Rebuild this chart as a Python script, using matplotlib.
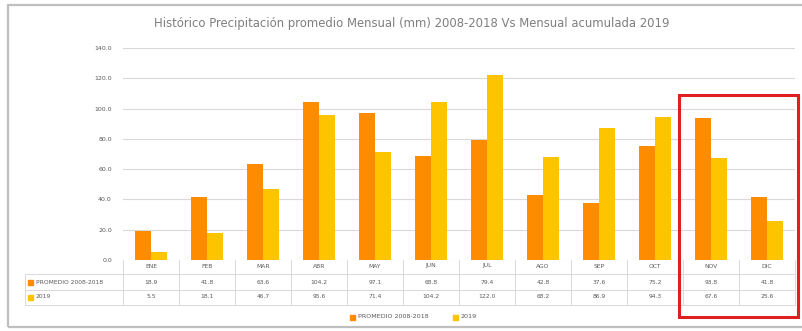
import matplotlib
matplotlib.use("Agg")
import matplotlib.pyplot as plt
from matplotlib.patches import Rectangle
from matplotlib.transforms import blended_transform_factory
import numpy as np

# Datos (mm)
meses = ["ENE", "FEB", "MAR", "ABR", "MAY", "JUN", "JUL", "AGO", "SEP", "OCT", "NOV", "DIC"]
promedio = [18.9, 41.8, 63.6, 104.2, 97.1, 68.8, 79.4, 42.8, 37.6, 75.2, 93.8, 41.8]
anio_2019 = [5.5, 18.1, 46.7, 95.6, 71.4, 104.2, 122.0, 68.2, 86.9, 94.3, 67.6, 25.6]
serie_nombres = ["PROMEDIO 2008-2018", "2019"]
y_ticks = [0, 20, 40, 60, 80, 100, 120, 140]

C_NAR = "#FF8C00"
C_AMA = "#FFC400"
C_GRIS = "#D9D9D9"
C_TXT = "#595959"

W, H = 802, 331
fig = plt.figure(figsize=(W / 100, H / 100), dpi=100)
plt.rcParams["font.family"] = ["DejaVu Sans"]


def fy(py):
    # pixel (desde arriba) -> fraccion de figura
    return 1 - py / H


# marco exterior
fig.patches.append(Rectangle((8 / W, fy(327)), 1.0, fy(5) - fy(327), transform=fig.transFigure,
                             fill=False, ec="#BFBFBF", lw=1.6, zorder=0))

ax = fig.add_axes([123 / W, fy(260), (795 - 123) / W, fy(48) - fy(260)])
x = np.arange(len(meses))
ancho = 0.28
ax.bar(x - ancho / 2, promedio, ancho, color=C_NAR, zorder=3)
ax.bar(x + ancho / 2, anio_2019, ancho, color=C_AMA, zorder=3)

ax.set_xlim(-0.5, len(meses) - 0.5)
ax.set_ylim(0, 140)
ax.set_yticks(y_ticks)
ax.set_yticklabels([f"{v:.1f}" for v in y_ticks], fontsize=4.5, color=C_TXT)
ax.set_xticks([])
ax.grid(axis="y", color=C_GRIS, lw=0.8, zorder=0)
for s in ax.spines.values():
    s.set_visible(False)
ax.tick_params(axis="y", length=0, pad=8)

fig.text(412 / W, fy(24), "Histórico Precipitación promedio Mensual (mm) 2008-2018 Vs Mensual acumulada 2019",
         ha="center", va="center", fontsize=8.4, color="#7F7F7F")

# tabla de datos
tr = blended_transform_factory(ax.transData, fig.transFigure)
fila_y = [266, 282, 297]
for i, m in enumerate(meses):
    fig.text(i, fy(fila_y[0]), m, transform=tr, ha="center", va="center", fontsize=4.3, color=C_TXT)
    fig.text(i, fy(fila_y[1]), f"{promedio[i]:.1f}", transform=tr, ha="center", va="center",
             fontsize=4.3, color=C_TXT)
    fig.text(i, fy(fila_y[2]), f"{anio_2019[i]:.1f}", transform=tr, ha="center", va="center",
             fontsize=4.3, color=C_TXT)
# lineas de la tabla
for k in range(len(meses) + 1):
    ax.plot([k - 0.5, k - 0.5], [fy(260), fy(305)], transform=tr, color=C_GRIS, lw=0.7, clip_on=False)
for py in [274, 290, 305]:
    fig.add_artist(plt.Line2D([25 / W, 795 / W], [fy(py), fy(py)], color=C_GRIS, lw=0.7))
fig.add_artist(plt.Line2D([25 / W, 25 / W], [fy(274), fy(305)], color=C_GRIS, lw=0.7))
for py, c, nom in zip(fila_y[1:], [C_NAR, C_AMA], serie_nombres):
    fig.patches.append(Rectangle((28 / W, fy(py + 2.5)), 5 / W, 5 / H, transform=fig.transFigure,
                                 color=c))
    fig.text(36 / W, fy(py), nom, ha="left", va="center", fontsize=4.3, color=C_TXT)

# leyenda
for px, c, nom in zip([350, 453], [C_NAR, C_AMA], serie_nombres):
    fig.patches.append(Rectangle((px / W, fy(319.5)), 5 / W, 5 / H, transform=fig.transFigure, color=c))
    fig.text((px + 8) / W, fy(317), nom, ha="left", va="center", fontsize=4.6, color=C_TXT)

# recuadro rojo NOV-DIC
fig.patches.append(Rectangle((9.42, fy(317)), 2.14, fy(95) - fy(317), transform=tr,
                             fill=False, ec="#E02020", lw=2.2, zorder=10))

fig.savefig("out.png", dpi=100)
